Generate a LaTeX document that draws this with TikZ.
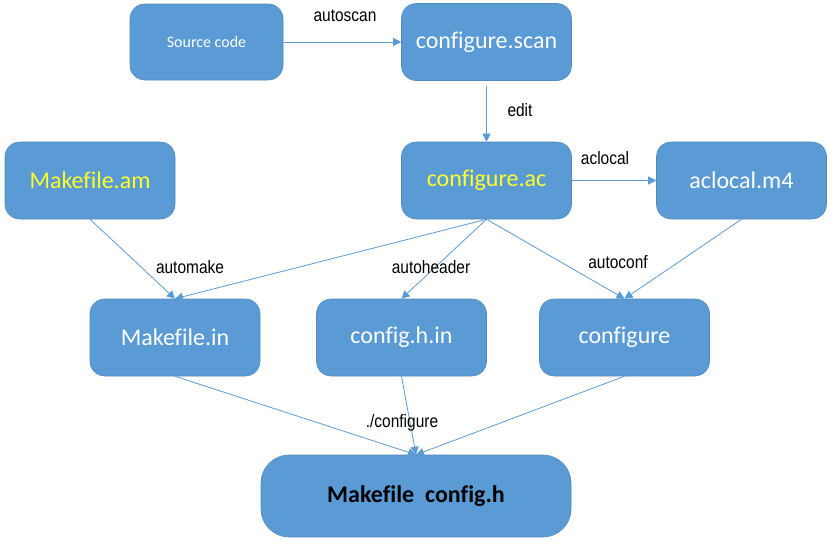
\documentclass[tikz,border=0pt]{standalone}
\usepackage{fontspec}
\setmainfont{Liberation Sans}
\newfontfamily\boxfont[Ligatures=NoCommon]{Carlito}
\newfontfamily\lblfont[FakeStretch=0.86]{Liberation Sans}
\usetikzlibrary{arrows.meta}
\definecolor{boxblue}{RGB}{91,155,213}
\definecolor{txtyellow}{RGB}{255,255,40}

\begin{document}
\begin{tikzpicture}[x=0.75pt,y=-0.75pt,
    box/.style={draw=boxblue!88!black, line width=0.4pt, fill=boxblue,
      rounded corners=11pt, minimum width=127.5pt, minimum height=57.75pt,
      inner sep=0pt, text=white, font=\boxfont\fontsize{18}{20}\selectfont},
    link/.style={draw=boxblue, line width=0.6pt, -{Triangle[width=6pt,length=6pt]}},
    lbl/.style={font=\lblfont\fontsize{13.5}{15}\selectfont}]
      % Canvas
      \useasboundingbox (0,0) rectangle (834,543);

      % ---------- Boxes ----------
      \node[box, minimum width=114.75pt, minimum height=57pt,
        font=\boxfont\fontsize{12}{14}\selectfont] (src) at (206.5,42) {Source code};
      \node[box] (scan) at (486.5,42) {configure.scan};
      \node[box, text=txtyellow] (am) at (90,180.5) {Makefile.am};
      \node[box, text=txtyellow] (ac) at (486.5,180.5) {configure.ac};
      \node[box] (m4) at (741.5,180.5) {aclocal.m4};
      \node[box] (mkin) at (175,337.5) {Makefile.in};
      \node[box] (chin) at (401.5,337.5) {config.h.in};
      \node[box] (cfg) at (624.5,337.5) {configure};
      % Final output
      \node[box, minimum width=232.5pt, minimum height=61.5pt, rounded corners=21pt,
        text=black, font=\boxfont\bfseries\fontsize{18}{20}\selectfont] (out) at (416,496)
        {Makefile\ \ config.h};

      % ---------- Connectors ----------
      \draw[link] (src) -- (scan);
      \draw[link, shorten <=4pt] (scan) -- (ac);
      \draw[link] (ac) -- (m4);
      \draw[link] (am.south) -- (mkin.north);
      \draw[link] (ac.south) -- (mkin.north);
      \draw[link] (ac.south) -- (chin.north);
      \draw[link] (ac.south) -- (cfg.north);
      \draw[link] (m4.south) -- (cfg.north);
      % Into the final output
      \foreach \from in {mkin,chin,cfg} {
        \draw[link] (\from.south) -- (out.north);
      }

      % ---------- Tool labels ----------
      \node[lbl] (tscan) at (345,16) {autoscan};
      \node[lbl] (tedit) at (520,110) {edit};
      \node[lbl] (tlocal) at (605,158) {aclocal};
      \node[lbl] (tmake) at (190,267) {automake};
      \node[lbl] (theader) at (431,267) {autoheader};
      \node[lbl] (tconf) at (618,262) {autoconf};
      \node[lbl] (trun) at (402,423) {./configure};
\end{tikzpicture}
\end{document}
